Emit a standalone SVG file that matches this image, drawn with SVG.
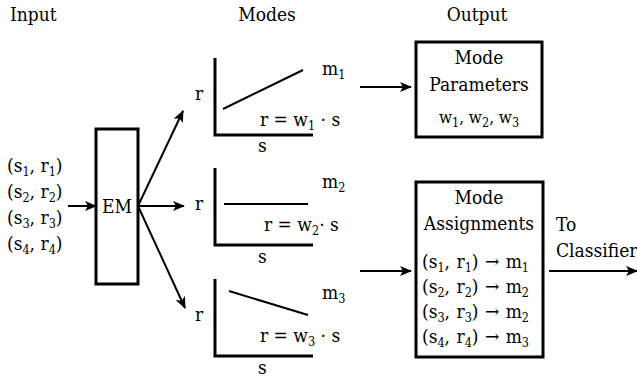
<svg xmlns="http://www.w3.org/2000/svg" width="637" height="379" viewBox="0 0 637 379">
<style>
text{font-family:"DejaVu Serif Condensed","DejaVu Serif",serif;font-stretch:condensed;font-size:19px;fill:#000}
.sub{font-size:12.5px}
.c{text-anchor:middle}
.box{fill:#fff;stroke:#000;stroke-width:3}
.ax{fill:none;stroke:#000;stroke-width:3}
.ln{fill:none;stroke:#000;stroke-width:2}
.ar{fill:none;stroke:#000;stroke-width:2;marker-end:url(#ah)}
</style>
<defs>
<marker id="ah" viewBox="0 0 12 10" refX="11" refY="5" markerWidth="12" markerHeight="10" markerUnits="userSpaceOnUse" orient="auto">
<path d="M0,0 L12,5 L0,10 L3,5 Z" fill="#000"/>
</marker>
</defs>
<g id="headers">
<text x="10" y="21">Input</text>
<text class="c" x="267" y="21">Modes</text>
<text class="c" x="477" y="21">Output</text>
</g>
<g id="input">
<text x="7" y="172">(s<tspan class="sub" dy="4">1</tspan><tspan dy="-4">, r</tspan><tspan class="sub" dy="4">1</tspan><tspan dy="-4">)</tspan></text>
<text x="7" y="198">(s<tspan class="sub" dy="4">2</tspan><tspan dy="-4">, r</tspan><tspan class="sub" dy="4">2</tspan><tspan dy="-4">)</tspan></text>
<text x="7" y="224">(s<tspan class="sub" dy="4">3</tspan><tspan dy="-4">, r</tspan><tspan class="sub" dy="4">3</tspan><tspan dy="-4">)</tspan></text>
<text x="7" y="250">(s<tspan class="sub" dy="4">4</tspan><tspan dy="-4">, r</tspan><tspan class="sub" dy="4">4</tspan><tspan dy="-4">)</tspan></text>
</g>
<g id="em">
<rect class="box" x="96" y="129" width="42" height="155"/>
<text class="c" x="117" y="213">EM</text>
</g>
<g id="mode1">
<path class="ax" d="M215,58 V135 H313"/>
<line class="ln" x1="223" y1="109" x2="303" y2="70"/>
<text x="195" y="100">r</text>
<text x="322" y="75">m<tspan class="sub" dy="4">1</tspan></text>
<text x="260" y="126">r = w<tspan class="sub" dy="4">1</tspan><tspan dy="-4"> · s</tspan></text>
<text x="258" y="152">s</text>
</g>
<g id="mode2">
<path class="ax" d="M215,168 V245 H313"/>
<line class="ln" x1="224" y1="204" x2="308" y2="204"/>
<text x="195" y="210">r</text>
<text x="322" y="188">m<tspan class="sub" dy="4">2</tspan></text>
<text x="264" y="231">r = w<tspan class="sub" dy="4">2</tspan><tspan dy="-4">· s</tspan></text>
<text x="258" y="263">s</text>
</g>
<g id="mode3">
<path class="ax" d="M215,279 V356 H313"/>
<line class="ln" x1="229" y1="291" x2="308" y2="315"/>
<text x="195" y="321">r</text>
<text x="322" y="299">m<tspan class="sub" dy="4">3</tspan></text>
<text x="260" y="342">r = w<tspan class="sub" dy="4">3</tspan><tspan dy="-4"> · s</tspan></text>
<text x="258" y="374">s</text>
</g>
<g id="params">
<rect class="box" x="416" y="42" width="126" height="95"/>
<text class="c" x="479" y="64">Mode</text>
<text class="c" x="479" y="91">Parameters</text>
<text class="c" x="479" y="123" style="font-size:17px">w<tspan class="sub" dy="4">1</tspan><tspan dy="-4">, w</tspan><tspan class="sub" dy="4">2</tspan><tspan dy="-4">, w</tspan><tspan class="sub" dy="4">3</tspan></text>
</g>
<g id="assign">
<rect class="box" x="416" y="182" width="127" height="175"/>
<text class="c" x="479" y="204">Mode</text>
<text class="c" x="479" y="230">Assignments</text>
<text x="422" y="268" word-spacing="1">(s<tspan class="sub" dy="4">1</tspan><tspan dy="-4">, r</tspan><tspan class="sub" dy="4">1</tspan><tspan dy="-4">) → m</tspan><tspan class="sub" dy="4">1</tspan></text>
<text x="422" y="293" word-spacing="1">(s<tspan class="sub" dy="4">2</tspan><tspan dy="-4">, r</tspan><tspan class="sub" dy="4">2</tspan><tspan dy="-4">) → m</tspan><tspan class="sub" dy="4">2</tspan></text>
<text x="422" y="318" word-spacing="1">(s<tspan class="sub" dy="4">3</tspan><tspan dy="-4">, r</tspan><tspan class="sub" dy="4">3</tspan><tspan dy="-4">) → m</tspan><tspan class="sub" dy="4">2</tspan></text>
<text x="422" y="343" word-spacing="1">(s<tspan class="sub" dy="4">4</tspan><tspan dy="-4">, r</tspan><tspan class="sub" dy="4">4</tspan><tspan dy="-4">) → m</tspan><tspan class="sub" dy="4">3</tspan></text>
</g>
<g id="classifier">
<text x="556" y="231">To</text>
<text x="556" y="257">Classifier</text>
</g>
<g id="connectors">
<line class="ar" x1="68" y1="206" x2="96" y2="206"/>
<line class="ar" x1="138" y1="206" x2="183" y2="111"/>
<line class="ar" x1="138" y1="206" x2="184" y2="206"/>
<line class="ar" x1="138" y1="206" x2="185" y2="308"/>
<line class="ar" x1="360" y1="87" x2="411" y2="87"/>
<line class="ar" x1="360" y1="271" x2="411" y2="271"/>
<line class="ar" x1="549" y1="271" x2="637" y2="271"/>
</g>
</svg>
